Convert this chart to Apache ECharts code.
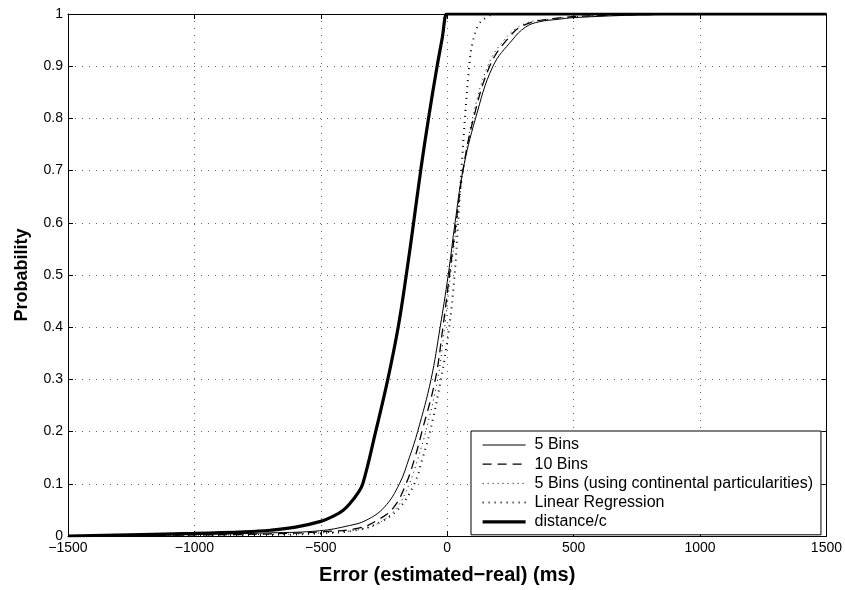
<!DOCTYPE html>
<html>
<head>
<meta charset="utf-8">
<script src="https://cdn.jsdelivr.net/npm/echarts@6/dist/echarts.min.js"></script>
<style>
  html, body { margin: 0; padding: 0; background: #fff; }
  #chart { width: 845px; height: 590px; }
</style>
</head>
<body>
<div id="chart"></div>
<script>
// Empirical CDFs of the timing error, as [error (ms), cumulative probability]
const seriesNames = [
  '5 Bins',
  '10 Bins',
  '5 Bins (using continental particularities)',
  'Linear Regression',
  'distance/c'
];

const bins5 = [
  [-1500, 0], [-1000, 0.003], [-700, 0.006], [-505, 0.01], [-387, 0.02],
  [-321, 0.03], [-249, 0.055], [-189, 0.1], [-150, 0.15], [-117, 0.2],
  [-64, 0.3], [-28, 0.4], [4, 0.5], [31, 0.6], [62, 0.7], [112, 0.8],
  [181, 0.9], [257, 0.95], [310, 0.975], [363, 0.985], [442, 0.99],
  [500, 0.993], [750, 0.998], [1000, 0.9995], [1500, 1]
];

const bins10 = [
  [-1500, 0], [-1000, 0.002], [-700, 0.004], [-500, 0.008], [-350, 0.015],
  [-281, 0.029], [-213, 0.054], [-163, 0.1], [-128, 0.15], [-100, 0.2],
  [-47, 0.3], [-17, 0.4], [9, 0.5], [35, 0.6], [62, 0.7], [104, 0.8],
  [168, 0.9], [235, 0.95], [300, 0.978], [400, 0.99], [600, 0.997],
  [1000, 0.9995], [1500, 1]
];

const bins5Continental = [
  [-1500, 0], [-700, 0.003], [-500, 0.006], [-350, 0.012], [-270, 0.025],
  [-200, 0.054], [-150, 0.1], [-115, 0.15], [-85, 0.2], [-38, 0.3],
  [-10, 0.4], [13, 0.5], [38, 0.6], [64, 0.7], [100, 0.8], [160, 0.9],
  [225, 0.95], [300, 0.98], [400, 0.99], [600, 0.997], [1000, 0.9995],
  [1500, 1]
];

const linearRegression = [
  [-1500, 0], [-700, 0.002], [-500, 0.005], [-350, 0.012], [-256, 0.029],
  [-189, 0.054], [-130, 0.1], [-97, 0.15], [-68, 0.2], [-25, 0.3],
  [8, 0.4], [29, 0.5], [43, 0.6], [56, 0.7], [70, 0.8], [87, 0.9],
  [100, 0.944], [125, 0.98], [160, 0.995], [192, 1], [200, 1], [1500, 1]
];

const distanceOverC = [
  [-1500, 0], [-1000, 0.005], [-800, 0.008], [-700, 0.011], [-600, 0.017],
  [-500, 0.028], [-450, 0.038], [-410, 0.05], [-380, 0.065], [-355, 0.081],
  [-334, 0.1], [-283, 0.2], [-235, 0.3], [-194, 0.4], [-162, 0.5],
  [-133, 0.6], [-105, 0.7], [-74, 0.8], [-40, 0.9], [-20, 0.953],
  [-3, 1], [0, 1], [1500, 1]
];

const xTicks = { min: -1500, max: 1500, step: 500 };
const yTicks = { min: 0, max: 1, step: 0.1 };

const FONT = '"Liberation Sans", Arial, Helvetica, sans-serif';
const minus = v => String(v).replace('-', '\u2212');

const gridLine = { show: true, lineStyle: { color: '#666', width: 1, type: [1, 6] } };
const axisLine = { show: true, onZero: false, lineStyle: { color: '#000', width: 1 } };
const innerTick = { show: true, inside: true, length: 5, lineStyle: { color: '#000' } };

const styles = [
  { width: 1, type: 'solid' },
  { width: 1.3, type: [9, 6] },
  { width: 1, type: [1, 4] },
  { width: 2, type: [1, 5] },
  { width: 3.2, type: 'solid' }
];
const datasets = [bins5, bins10, bins5Continental, linearRegression, distanceOverC];

const chart = echarts.init(document.getElementById('chart'), null, { renderer: 'canvas' });

chart.setOption({
  animation: false,
  backgroundColor: '#fff',
  textStyle: { fontFamily: FONT },
  grid: { left: 68, right: 17, top: 14, bottom: 48 },
  xAxis: [
    {
      type: 'value', position: 'bottom',
      min: xTicks.min, max: xTicks.max, interval: xTicks.step,
      axisLine: axisLine, axisTick: innerTick,
      axisLabel: { color: '#000', fontSize: 14, fontFamily: FONT, margin: 5, formatter: minus },
      splitLine: gridLine,
      name: 'Error (estimated\u2212real) (ms)',
      nameLocation: 'middle', nameGap: 29,
      nameTextStyle: { color: '#000', fontSize: 20, fontWeight: 'bold', fontFamily: FONT }
    },
    {
      type: 'value', position: 'top',
      min: xTicks.min, max: xTicks.max, interval: xTicks.step,
      axisLine: axisLine, axisTick: innerTick,
      axisLabel: { show: false },
      splitLine: { show: false }
    }
  ],
  yAxis: [
    {
      type: 'value', position: 'left',
      min: yTicks.min, max: yTicks.max, interval: yTicks.step,
      axisLine: axisLine, axisTick: innerTick,
      axisLabel: {
        color: '#000', fontSize: 14, fontFamily: FONT, margin: 5,
        formatter: v => String(Math.round(v * 10) / 10)
      },
      splitLine: gridLine,
      name: 'Probability',
      nameLocation: 'middle', nameGap: 37,
      nameTextStyle: { color: '#000', fontSize: 18, fontWeight: 'bold', fontFamily: FONT }
    },
    {
      type: 'value', position: 'right',
      min: yTicks.min, max: yTicks.max, interval: yTicks.step,
      axisLine: axisLine, axisTick: innerTick,
      axisLabel: { show: false },
      splitLine: { show: false }
    }
  ],
  legend: {
    orient: 'vertical',
    left: 471, top: 431,
    padding: [6, 8, 5, 10],
    itemWidth: 43, itemHeight: 14, itemGap: 3.2,
    backgroundColor: '#fff',
    borderColor: '#000', borderWidth: 1, borderRadius: 0,
    itemStyle: { opacity: 0 },
    textStyle: { color: '#000', fontSize: 16, fontFamily: FONT, padding: [0, 0, 0, 4] },
    data: seriesNames.map((n, i) => ({
      name: n,
      lineStyle: { color: '#000', width: styles[i].width, type: styles[i].type }
    }))
  },
  series: datasets.map((data, i) => ({
    name: seriesNames[i],
    type: 'line',
    data: data,
    showSymbol: false,
    symbol: 'none',
    smooth: 0.4,
    color: '#000',
    lineStyle: { color: '#000', width: styles[i].width, type: styles[i].type },
    z: i === 4 ? 3 : 2
  }))
});
</script>
</body>
</html>
